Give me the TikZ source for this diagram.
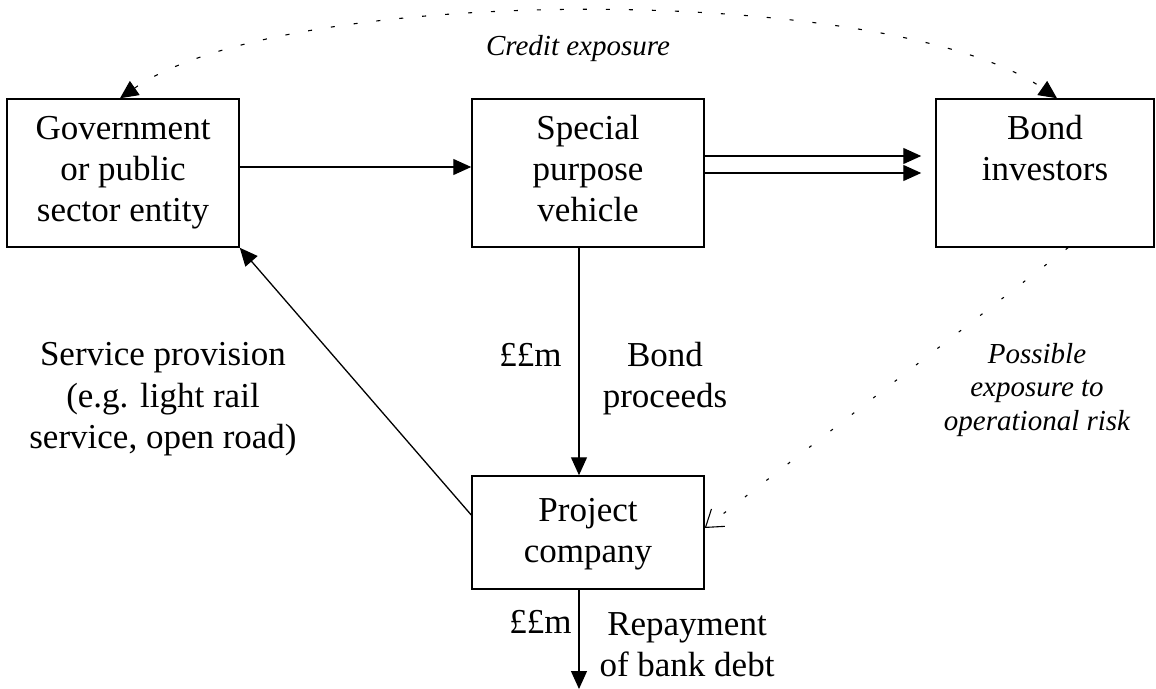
\documentclass[tikz,border=0pt]{standalone}
\usepackage{fontspec}
\setmainfont{Liberation Serif}
\usetikzlibrary{arrows.meta}

\begin{document}
\begin{tikzpicture}[x=0.5pt,y=-0.5pt,
	every node/.style={font=\fontsize{17.5}{20.5}\selectfont, inner sep=0pt, align=center},
	box/.style={draw, line width=0.75pt, text height=61.5pt, text depth=12.5pt, minimum width=116pt, anchor=base},
	note/.style={anchor=base},
	side/.style={font=\fontsize{14.5}{16.75}\selectfont\itshape, anchor=base},
	arr/.style={line width=0.65pt, -{Triangle[length=9pt,width=8pt]}},
	dots/.style={line width=0.55pt, dash pattern=on 2pt off 9.5pt}
]
\useasboundingbox (0,0) rectangle (1156,689);

% boxes (placed at the baseline of their last line)
\node[box] (gov) at (123,222) {Government\\or public\\sector entity};
\node[box] (spv) at (588,222) {Special\\purpose\\vehicle};
\node[box, minimum width=109pt, text height=41pt, text depth=33pt] (bond) at (1045,181) {Bond\\investors};
\node[box, text height=43pt, text depth=13.5pt] (proj) at (588,562) {Project\\company};
\coordinate (debt) at (579,689);

% labels
\node[side] (credit) at (578,56) {Credit exposure};
\node[note, anchor=base east] (fee1) at (562,367) {££m};
\node[note] (proceeds) at (665,408) {Bond\\proceeds};
\node[note] (service) at (163,448) {Service provision\\(e.g. light rail\\service, open road)};
\node[side] (risk) at (1037,430) {Possible\\exposure to\\operational risk};
\node[note, anchor=base east] (fee2) at (572,633) {££m};
\node[note] (repay) at (687,676) {Repayment\\of bank debt};

% flows
\draw[arr] ([yshift=3pt]gov.east) -- ([yshift=3pt]spv.west);
\draw[arr] ([yshift=8.5pt]spv.east) -- ([yshift=8.5pt,xshift=-7pt]bond.west);
\draw[arr] (spv.east) -- ([xshift=-7pt]bond.west);
\draw[arr] ([xshift=-4.5pt]spv.south) -- ([xshift=-4.5pt]proj.north);
\draw[arr] ([yshift=8.75pt]proj.west) -- (gov.south east);
\draw[arr] ([xshift=-4.5pt]proj.south) -- (debt);

% exposures
\draw[dots, {Triangle[length=9pt,width=8.5pt]}-{Triangle[length=9pt,width=8.5pt]}] ([xshift=-1.5pt]gov.north) .. controls (286,-17) and (891,-17) .. ([xshift=6pt]bond.north);
\draw[dots, dash pattern=on 1.5pt off 12pt, -{Straight Barb[length=8pt,width=11pt]}] ([xshift=11.5pt]bond.south) -- ([yshift=2.25pt]proj.east);
\end{tikzpicture}
\end{document}
